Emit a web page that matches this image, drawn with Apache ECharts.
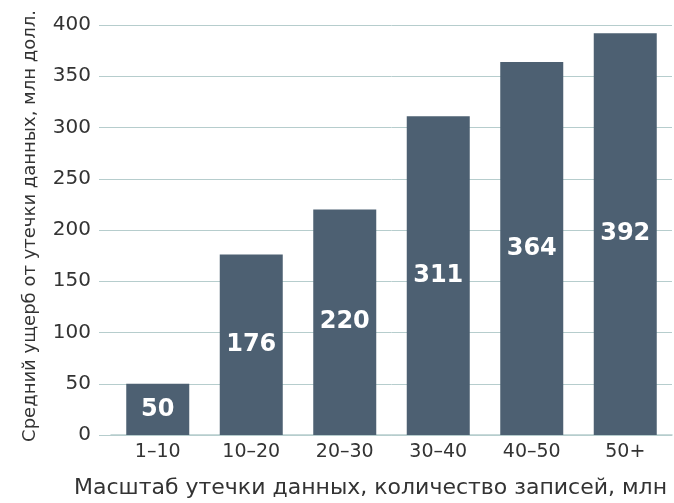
<!DOCTYPE html>
<html>
<head>
<meta charset="utf-8">
<script src="https://cdn.jsdelivr.net/npm/echarts@6/dist/echarts.min.js"></script>
<style>
  html, body { margin: 0; padding: 0; background: #fff; }
  #chart { width: 674px; height: 503px; }
</style>
</head>
<body>
<div id="chart"></div>
<script>
var categories = ['1–10', '10–20', '20–30', '30–40', '40–50', '50+'];
var damage = [50, 176, 220, 311, 364, 392];
var yTicks = [0, 50, 100, 150, 200, 250, 300, 350, 400];

var FONT = '"DejaVu Sans", Verdana, sans-serif';
var GRID_COLOR = '#b6cdcd';

var chart = echarts.init(document.getElementById('chart'));

chart.setOption({
    animation: false,
    grid: { left: 111, right: 2, top: 25, bottom: 68, outerBoundsMode: 'none', containLabel: false },
    xAxis: {
        type: 'category',
        data: categories,
        name: 'Масштаб утечки данных, количество записей, млн',
        nameLocation: 'middle',
        nameGap: 42,
        nameTextStyle: { fontFamily: FONT, fontSize: 22, color: '#333', padding: [0, 42, 0, 0] },
        axisLine: { lineStyle: { color: GRID_COLOR, width: 1.5 } },
        axisTick: { show: false },
        axisLabel: { fontFamily: FONT, fontSize: 19, color: '#333', margin: 8 }
    },
    yAxis: {
        type: 'value',
        min: yTicks[0],
        max: yTicks[yTicks.length - 1],
        interval: 50,
        name: 'Средний ущерб от утечки данных, млн долл.',
        nameLocation: 'middle',
        nameGap: 72,
        nameTextStyle: { fontFamily: FONT, fontSize: 18, color: '#333', padding: [0, 0, 0, 8] },
        axisLine: { show: false },
        axisTick: { show: true, length: 12, lineStyle: { color: GRID_COLOR } },
        axisLabel: { fontFamily: FONT, fontSize: 20, color: '#333', margin: 20 },
        splitLine: { lineStyle: { color: GRID_COLOR, width: 1 } }
    },
    series: [{
        type: 'bar',
        data: damage,
        barWidth: 63,
        itemStyle: { color: '#4d6072' },
        label: {
            show: true,
            position: 'inside',
            fontFamily: FONT,
            fontSize: 24,
            fontWeight: 'bold',
            color: '#fff'
        }
    }]
});
</script>
</body>
</html>
